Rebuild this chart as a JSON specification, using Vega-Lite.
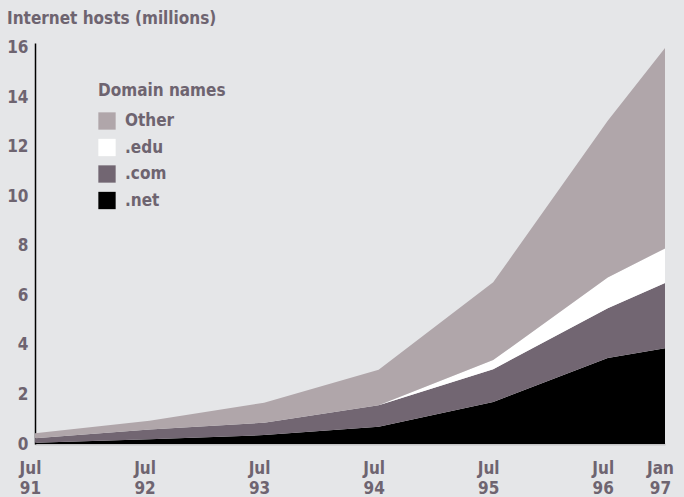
{
  "$schema": "https://vega.github.io/schema/vega-lite/v6.json",
  "width": 630,
  "height": 401,
  "autosize": "none",
  "padding": {"left": 35, "top": 43, "right": 19, "bottom": 53},
  "background": "#e5e6e8",
  "title": {
    "text": "Internet hosts (millions)",
    "anchor": "start",
    "frame": "group",
    "dx": -28,
    "offset": 11,
    "font": "Liberation Sans Narrow, DejaVu Sans Condensed, sans-serif",
    "fontSize": 17,
    "fontWeight": "bold",
    "color": "#6e6470"
  },
  "data": {
    "values": [
      {"t": 1991.5, "domain": ".net", "k": 1, "hosts": 0.05},
      {"t": 1991.5, "domain": ".com", "k": 2, "hosts": 0.18},
      {"t": 1991.5, "domain": ".edu", "k": 3, "hosts": 0.0},
      {"t": 1991.5, "domain": "Other", "k": 4, "hosts": 0.2},
      {"t": 1992.5, "domain": ".net", "k": 1, "hosts": 0.19},
      {"t": 1992.5, "domain": ".com", "k": 2, "hosts": 0.4},
      {"t": 1992.5, "domain": ".edu", "k": 3, "hosts": 0.0},
      {"t": 1992.5, "domain": "Other", "k": 4, "hosts": 0.35},
      {"t": 1993.5, "domain": ".net", "k": 1, "hosts": 0.36},
      {"t": 1993.5, "domain": ".com", "k": 2, "hosts": 0.5},
      {"t": 1993.5, "domain": ".edu", "k": 3, "hosts": 0.0},
      {"t": 1993.5, "domain": "Other", "k": 4, "hosts": 0.81},
      {"t": 1994.5, "domain": ".net", "k": 1, "hosts": 0.7},
      {"t": 1994.5, "domain": ".com", "k": 2, "hosts": 0.87},
      {"t": 1994.5, "domain": ".edu", "k": 3, "hosts": 0.0},
      {"t": 1994.5, "domain": "Other", "k": 4, "hosts": 1.43},
      {"t": 1995.5, "domain": ".net", "k": 1, "hosts": 1.7},
      {"t": 1995.5, "domain": ".com", "k": 2, "hosts": 1.32},
      {"t": 1995.5, "domain": ".edu", "k": 3, "hosts": 0.37},
      {"t": 1995.5, "domain": "Other", "k": 4, "hosts": 3.14},
      {"t": 1996.5, "domain": ".net", "k": 1, "hosts": 3.47},
      {"t": 1996.5, "domain": ".com", "k": 2, "hosts": 2.01},
      {"t": 1996.5, "domain": ".edu", "k": 3, "hosts": 1.25},
      {"t": 1996.5, "domain": "Other", "k": 4, "hosts": 6.33},
      {"t": 1997.0, "domain": ".net", "k": 1, "hosts": 3.87},
      {"t": 1997.0, "domain": ".com", "k": 2, "hosts": 2.63},
      {"t": 1997.0, "domain": ".edu", "k": 3, "hosts": 1.4},
      {"t": 1997.0, "domain": "Other", "k": 4, "hosts": 8.1}
    ]
  },
  "mark": {"type": "area", "interpolate": "linear"},
  "encoding": {
    "x": {
      "field": "t",
      "type": "quantitative",
      "scale": {"domain": [1991.5, 1997], "nice": false, "zero": false},
      "axis": {
        "title": null,
        "values": [1991.5, 1992.5, 1993.5, 1994.5, 1995.5, 1996.5, 1997],
        "labelExpr": "datum.value == 1997 ? ['Jan', '97'] : ['Jul', '' + (floor(datum.value) % 100)]",
        "ticks": false,
        "grid": false,
        "domainColor": "#c4c4c6",
        "domainWidth": 2,
        "labelPadding": 16,
        "labelBaseline": "top",
        "labelLineHeight": 20,
        "labelOffset": -5,
        "labelFlush": false,
        "labelOverlap": false
      }
    },
    "y": {
      "field": "hosts",
      "type": "quantitative",
      "stack": "zero",
      "scale": {"domain": [0, 16.2], "nice": false},
      "axis": {
        "title": null,
        "values": [0, 2, 4, 6, 8, 10, 12, 14, 16],
        "ticks": false,
        "grid": false,
        "domainColor": "#000000",
        "domainWidth": 1.5,
        "labelPadding": 7,
        "labelFlush": false
      }
    },
    "order": {"field": "k", "type": "quantitative", "sort": "ascending"},
    "color": {
      "field": "domain",
      "type": "nominal",
      "scale": {
        "domain": ["Other", ".edu", ".com", ".net"],
        "range": ["#b0a6aa", "#ffffff", "#726672", "#000000"]
      },
      "legend": {
        "title": "Domain names",
        "orient": "none",
        "legendX": 63,
        "legendY": 40,
        "symbolType": "square",
        "symbolSize": 300,
        "symbolStrokeWidth": 0,
        "symbolOpacity": 1,
        "labelOffset": 9,
        "rowPadding": 8.5,
        "titlePadding": 12
      }
    }
  },
  "config": {
    "view": {"stroke": null},
    "font": "Liberation Sans Narrow, DejaVu Sans Condensed, sans-serif",
    "axis": {
      "labelFont": "Liberation Sans Narrow, DejaVu Sans Condensed, sans-serif",
      "labelFontSize": 17,
      "labelFontWeight": "bold",
      "labelColor": "#6e6470"
    },
    "legend": {
      "titleFont": "Liberation Sans Narrow, DejaVu Sans Condensed, sans-serif",
      "titleFontSize": 17,
      "titleFontWeight": "bold",
      "titleColor": "#6e6470",
      "labelFont": "Liberation Sans Narrow, DejaVu Sans Condensed, sans-serif",
      "labelFontSize": 17,
      "labelFontWeight": "bold",
      "labelColor": "#6e6470"
    }
  }
}
